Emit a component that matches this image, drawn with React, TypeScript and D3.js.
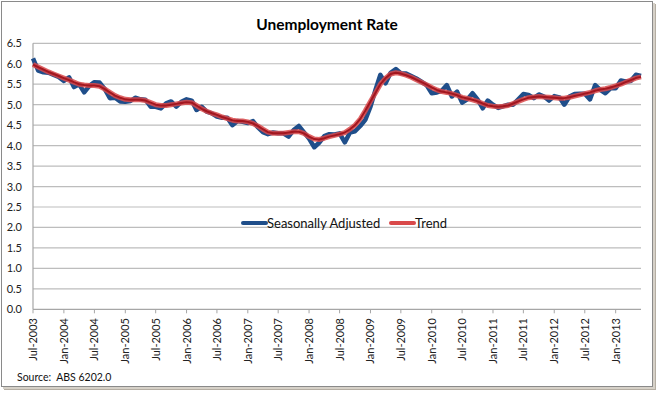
import React, { useEffect, useRef } from "react";
import * as d3 from "d3";

// monthly, Jul-2003 .. Jun-2013
const firstMonth = new Date(2003, 6, 1);

const seasonallyAdjusted = [
  6.13, 5.83, 5.79, 5.78, 5.73, 5.68, 5.58, 5.67, 5.43, 5.50, 5.30, 5.46,
  5.55, 5.54, 5.38, 5.16, 5.17, 5.08, 5.07, 5.09, 5.17, 5.13, 5.12, 4.95,
  4.95, 4.91, 5.03, 5.08, 4.95, 5.07, 5.13, 5.10, 4.87, 4.95, 4.83, 4.79,
  4.71, 4.68, 4.68, 4.50, 4.60, 4.58, 4.55, 4.60, 4.45, 4.33, 4.28, 4.32,
  4.30, 4.30, 4.22, 4.38, 4.48, 4.33, 4.17, 3.96, 4.07, 4.23, 4.28, 4.27,
  4.30, 4.08, 4.32, 4.35, 4.48, 4.63, 4.95, 5.38, 5.73, 5.52, 5.78, 5.87,
  5.77, 5.76, 5.70, 5.64, 5.56, 5.48, 5.28, 5.30, 5.34, 5.48, 5.20, 5.32,
  5.05, 5.13, 5.28, 5.13, 4.91, 5.10, 5.00, 4.92, 4.96, 5.00, 5.00, 5.13,
  5.26, 5.24, 5.16, 5.25, 5.20, 5.10, 5.21, 5.18, 5.00, 5.20, 5.26, 5.27,
  5.27, 5.13, 5.48, 5.36, 5.28, 5.40, 5.40, 5.59, 5.57, 5.58, 5.73, 5.70,
];

const trend = [
  5.98, 5.92, 5.86, 5.80, 5.75, 5.70, 5.65, 5.60, 5.55, 5.50, 5.48, 5.47,
  5.47, 5.45, 5.38, 5.30, 5.22, 5.17, 5.13, 5.12, 5.12, 5.12, 5.10, 5.05,
  5.00, 4.98, 4.98, 5.00, 5.02, 5.04, 5.06, 5.05, 4.98, 4.90, 4.84, 4.79,
  4.75, 4.70, 4.66, 4.62, 4.60, 4.60, 4.58, 4.54, 4.48, 4.40, 4.33, 4.30,
  4.30, 4.30, 4.32, 4.34, 4.34, 4.30, 4.22, 4.16, 4.15, 4.18, 4.22, 4.25,
  4.28, 4.32, 4.40, 4.50, 4.65, 4.85, 5.08, 5.30, 5.50, 5.65, 5.75, 5.78,
  5.76, 5.72, 5.67, 5.61, 5.55, 5.49, 5.42, 5.36, 5.32, 5.30, 5.27, 5.23,
  5.18, 5.15, 5.12, 5.08, 5.03, 4.98, 4.96, 4.95, 4.96, 4.98, 5.03, 5.08,
  5.13, 5.17, 5.19, 5.20, 5.19, 5.18, 5.17, 5.16, 5.16, 5.18, 5.21, 5.24,
  5.27, 5.30, 5.34, 5.37, 5.39, 5.42, 5.46, 5.50, 5.55, 5.60, 5.65, 5.68,
];

const yTicks = [0, 0.5, 1, 1.5, 2, 2.5, 3, 3.5, 4, 4.5, 5, 5.5, 6, 6.5];
const xTickLabels = [
  "Jul-2003", "Jan-2004", "Jul-2004", "Jan-2005", "Jul-2005", "Jan-2006", "Jul-2006",
  "Jan-2007", "Jul-2007", "Jan-2008", "Jul-2008", "Jan-2009", "Jul-2009", "Jan-2010",
  "Jul-2010", "Jan-2011", "Jul-2011", "Jan-2012", "Jul-2012", "Jan-2013",
];

const FONT = "Lato, 'Open Sans', sans-serif";

export default function App() {
  const ref = useRef<SVGSVGElement>(null);

  useEffect(() => {
    const svg = d3.select(ref.current);
    svg.selectAll("*").remove();

    const dates = seasonallyAdjusted.map((_, i) => d3.timeMonth.offset(firstMonth, i));
    const parseLabel = d3.timeParse("%b-%Y");

    const x = d3.scaleTime().domain([dates[0], dates[dates.length - 1]]).range([33, 641]);
    const y = d3.scaleLinear().domain([0, 6.5]).range([309.3, 43.3]);

    // frame + shadow
    svg.append("rect").attr("x", 4).attr("y", 4).attr("width", 652).attr("height", 386).attr("fill", "#b5aea3");
    svg.append("rect").attr("x", 3).attr("y", 3).attr("width", 652).attr("height", 386).attr("fill", "#d6d1c8");
    svg.append("rect").attr("x", 1.5).attr("y", 1.5).attr("width", 651).attr("height", 385)
      .attr("fill", "white").attr("stroke", "#8a8a8a").attr("stroke-width", 1);

    svg.append("text").attr("x", 327).attr("y", 30).attr("text-anchor", "middle")
      .style("font-family", FONT).style("font-size", "15.5px").style("font-weight", "bold")
      .text("Unemployment Rate");

    // gridlines
    svg.append("g").selectAll("line").data(yTicks.slice(1)).join("line")
      .attr("x1", 33).attr("x2", 641)
      .attr("y1", d => y(d)).attr("y2", d => y(d))
      .attr("stroke", "#bdbdbd").attr("stroke-width", 1.2);

    // y labels
    svg.append("g").selectAll("text").data(yTicks).join("text")
      .attr("x", 22).attr("y", d => y(d) + 4).attr("text-anchor", "end")
      .style("font-family", FONT).style("font-size", "11px").attr("fill", "#222")
      .text(d => d.toFixed(1));

    // axes lines
    svg.append("line").attr("x1", 33).attr("x2", 33).attr("y1", y(6.5)).attr("y2", y(0))
      .attr("stroke", "#a6a6a6").attr("stroke-width", 1.2);
    svg.append("line").attr("x1", 33).attr("x2", 641).attr("y1", y(0)).attr("y2", y(0))
      .attr("stroke", "#a6a6a6").attr("stroke-width", 1.2);

    const tickDates = xTickLabels.map(s => parseLabel(s) as Date);
    svg.append("g").selectAll("line").data(tickDates).join("line")
      .attr("x1", d => x(d)).attr("x2", d => x(d))
      .attr("y1", y(0)).attr("y2", y(0) + 4)
      .attr("stroke", "#a6a6a6");

    svg.append("g").selectAll("text").data(xTickLabels).join("text")
      .attr("transform", (d, i) => `translate(${x(tickDates[i]) + 4},318) rotate(-90)`)
      .attr("text-anchor", "end")
      .style("font-family", FONT).style("font-size", "11px").attr("fill", "#222")
      .text(d => d);

    const line = d3.line<number>().x((_, i) => x(dates[i])).y(d => y(d));

    svg.append("path").attr("d", line(seasonallyAdjusted))
      .attr("fill", "none").attr("stroke", "#1f4e8a").attr("stroke-width", 4.5)
      .attr("stroke-linejoin", "round");

    svg.append("path").attr("d", line(trend))
      .attr("fill", "none").attr("stroke", "#d9494a").attr("stroke-opacity", 0.85).attr("stroke-width", 5)
      .attr("stroke-linejoin", "round");
    svg.append("path").attr("d", line(trend))
      .attr("fill", "none").attr("stroke", "#a3161f").attr("stroke-width", 2)
      .attr("stroke-linejoin", "round");

    // legend
    const legend = svg.append("g").attr("transform", "translate(243,223)");
    const items = [
      { label: "Seasonally Adjusted", color: "#1f4e8a", x: 0 },
      { label: "Trend", color: "#d9494a", x: 148 },
    ];
    items.forEach(it => {
      legend.append("line").attr("x1", it.x).attr("x2", it.x + 23).attr("y1", 0).attr("y2", 0)
        .attr("stroke", it.color).attr("stroke-width", 4).attr("stroke-linecap", "round");
      legend.append("text").attr("x", it.x + 24).attr("y", 4.5)
        .style("font-family", FONT).style("font-size", "13px").attr("fill", "#111")
        .text(it.label);
    });

    svg.append("text").attr("x", 17).attr("y", 381)
      .style("font-family", FONT).style("font-size", "10.5px").style("white-space", "pre").attr("fill", "#111")
      .text("Source:  ABS 6202.0");
  }, []);

  return (
    <svg ref={ref} width={657} height={393} style={{ position: "absolute", left: 0, top: 0 }} />
  );
}
